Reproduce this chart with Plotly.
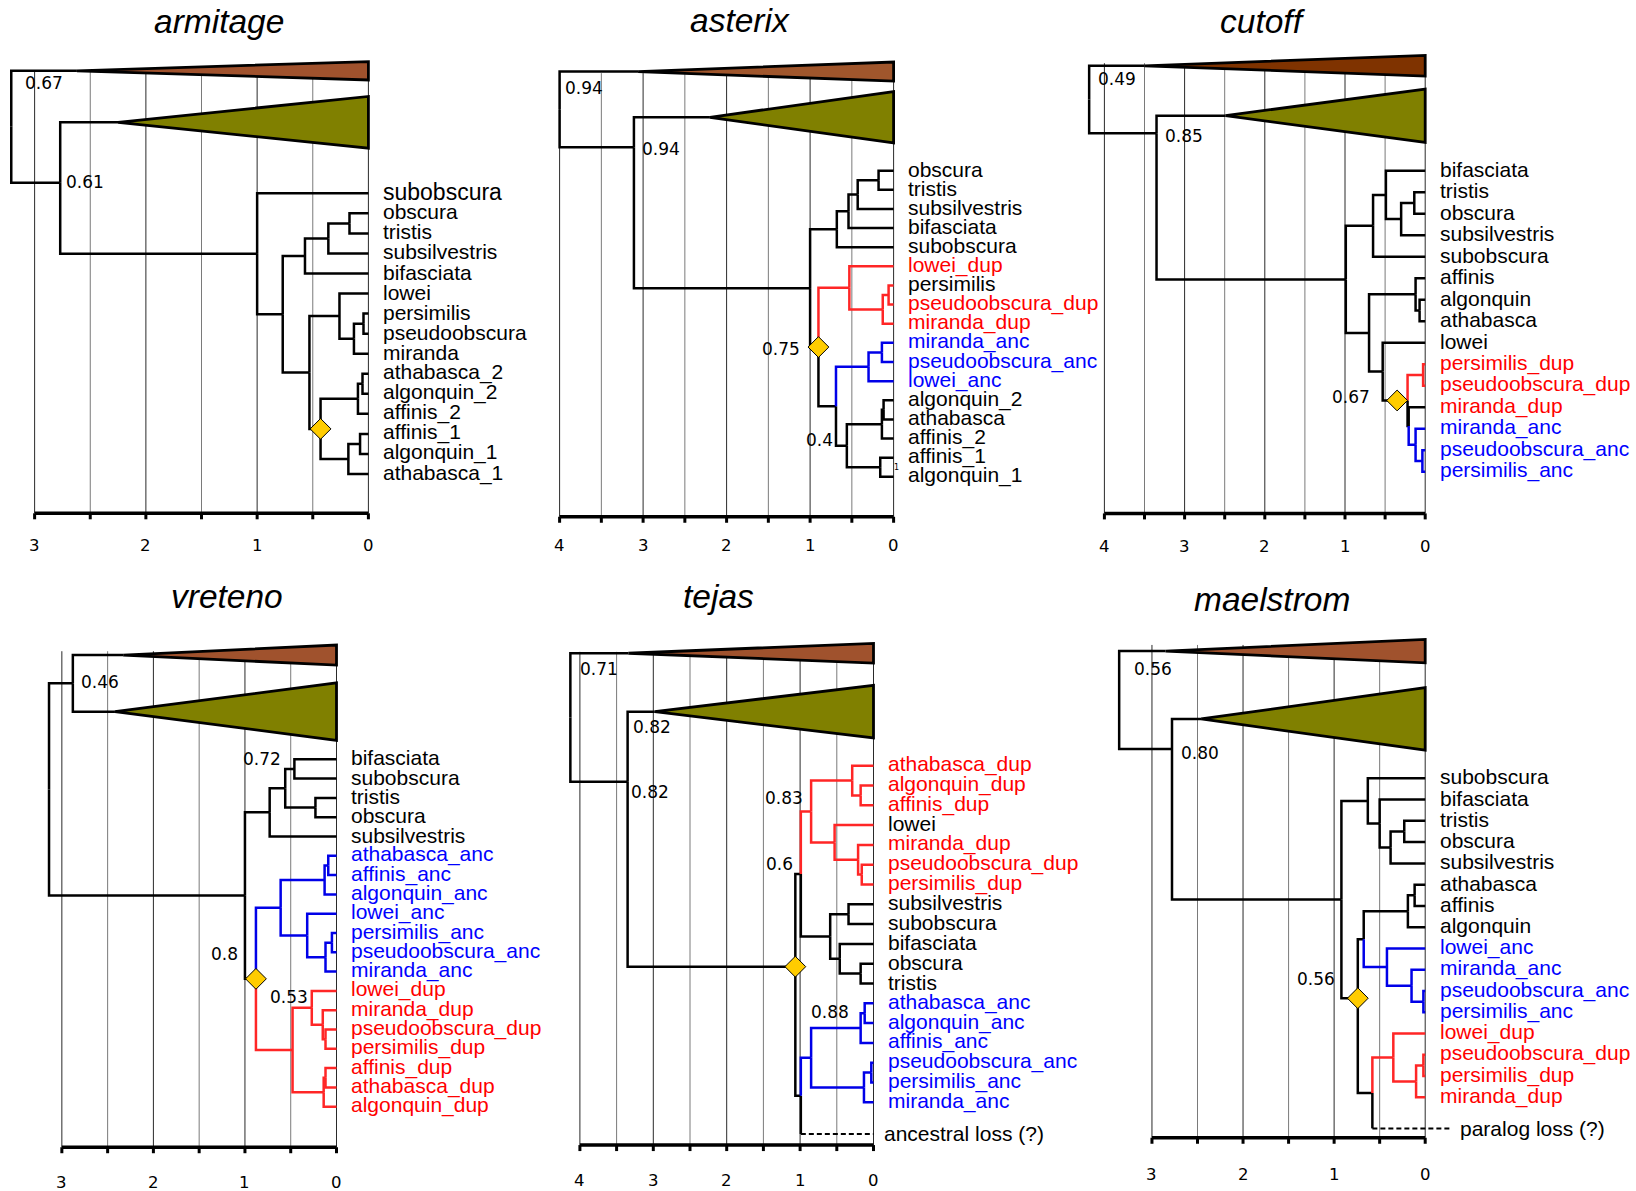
import re
import plotly.graph_objects as go

W, H = 1636, 1191

# ---------------- data ----------------
TITLES = ["armitage", "asterix", "cutoff", "vreteno", "tejas", "maelstrom"]

# Newick-like trees. Tip ages are 0 (collapsed clades BROWN/OLIVE carry their crown age).
# Internal node suffix: age [*dup_age] [r|b = duplicate/ancestral clade] [=name]
TREE_ARMITAGE = "(BROWN:2.62,(OLIVE:2.25,(subobscura,((((obscura,tristis)0.17,subsilvestris)0.36,bifasciata)0.57,((lowei,((persimilis,pseudoobscura)0.044,miranda)0.13)0.26,(((athabasca_2,algonquin_2)0.053,affinis_2)0.094,((affinis_1,algonquin_1)0.075,athabasca_1)0.18)0.43*)0.53)0.77)1.0)2.77=A)3.21=R"
TREE_ASTERIX = "(BROWN:3.06,(OLIVE:2.20,(((((obscura,tristis)0.18,subsilvestris)0.43,bifasciata)0.54,subobscura)0.68,((lowei_dup,((persimilis,pseudoobscura_dup)0.06,miranda_dup)0.13)0.53r,(((miranda_anc,pseudoobscura_anc)0.14,lowei_anc)0.30b,(((algonquin_2,athabasca)0.12,affinis_2)0.14,(affinis_1,algonquin_1)0.16=K3)0.56=K1)0.69)0.9*=Dn)1.0)3.11=A)4.0=R"
TREE_CUTOFF = "(BROWN:3.50,(OLIVE:2.49,(((bifasciata,((tristis,obscura)0.136,subsilvestris)0.30)0.49,subobscura)0.65,((affinis,(algonquin,athabasca)0.07)0.12,(lowei,((persimilis_dup,pseudoobscura_dup)0.026r,(miranda_dup,(miranda_anc,(pseudoobscura_anc,persimilis_anc)0.035)0.12b)0.206)0.22*0.35=Dn)0.53)0.70)0.99)3.35=A)4.19=R"
TREE_VRETENO = "((BROWN:2.33,OLIVE:2.42)2.88=O,((((bifasciata,subobscura)0.46=N72,(tristis,obscura)0.23)0.56,subsilvestris)0.73,((((athabasca_anc,affinis_anc)0.09,algonquin_anc)0.13,(lowei_anc,((persimilis_anc,pseudoobscura_anc)0.05,miranda_anc)0.12)0.32)0.61b,((lowei_dup,(miranda_dup,(pseudoobscura_dup,persimilis_dup)0.12)0.15)0.27=N53,((affinis_dup,athabasca_dup)0.12,algonquin_dup)0.14)0.48r)0.88*=Dn)1.0)3.14=R"
TREE_TEJAS = "(BROWN:3.34,(OLIVE:2.98,((((athabasca_dup,(algonquin_dup,affinis_dup)0.175)0.29,(lowei,(miranda_dup,(pseudoobscura_dup,persimilis_dup)0.16)0.21)0.53)0.85r=Rr,((subsilvestris,subobscura)0.34,(bifasciata,(obscura,tristis)0.175)0.46)0.59)0.99=Q,((((athabasca_anc,algonquin_anc)0.12,affinis_anc)0.175=N88,((pseudoobscura_anc,persimilis_anc)0.03,miranda_anc)0.13)0.85b,LOSS)0.99)1.065*=T)3.35=A)4.13=R"
TREE_MAELSTROM = "(BROWN:2.85,(OLIVE:2.46,((subobscura,(bifasciata,((tristis,obscura)0.23,subsilvestris)0.38)0.50)0.63,((((athabasca,affinis)0.116,algonquin)0.19,(lowei_anc,(miranda_anc,(pseudoobscura_anc,persimilis_anc)0.02)0.15)0.42b)0.675,((lowei_dup,((pseudoobscura_dup,persimilis_dup)0.02,miranda_dup)0.10)0.35r,LOSS)0.58)0.74*=Dn)0.92)2.78=A)3.36=R"
TREES = [TREE_ARMITAGE, TREE_ASTERIX, TREE_CUTOFF, TREE_VRETENO, TREE_TEJAS, TREE_MAELSTROM]

LOSS_LABELS = {"tejas": "ancestral loss (?)", "maelstrom": "paralog loss (?)"}

# support values: (text, node for x, node for y, side, dx px, dy rows[, font size])
SUPPORT = {
    "armitage": [("0.67", "R", "BROWN", "R", 12.5, 0.62), ("0.61", "A", "A", "R", 5.2, -0.05)],
    "asterix": [("0.94", "R", "BROWN", "R", 4.5, 0.87), ("0.94", "A", "A", "R", 7.0, 0.08),
                ("0.75", "Dn", "Dn", "L", 17.0, 0.12), ("0.4", "K1", "K1", "L", 13.1, -0.3),
                ("1", "K3", "K3", "R", 13.1, 0.0, 8)],
    "cutoff": [("0.49", "R", "BROWN", "R", 8.1, 0.61), ("0.85", "A", "A", "R", 7.7, 0.13),
               ("0.67", "Dn", "Dn", "L", 36.2, -0.15)],
    "vreteno": [("0.46", "O", "O", "R", 7.0, -0.08), ("0.72", "N72", "N72", "L", 12.1, -0.5),
                ("0.8", "Dn", "Dn", "L", 17.4, -1.3), ("0.53", "N53", "N53", "L", 2.4, -0.57)],
    "tejas": [("0.71", "R", "BROWN", "R", 8.7, 0.81), ("0.82", "A", "OLIVE", "R", 3.9, 0.76),
              ("0.82", "A", "A", "R", 2.8, 0.5), ("0.83", "Rr", "Rr", "L", 7.0, -0.66),
              ("0.6", "Q", "Q", "L", 7.0, -0.49), ("0.88", "N88", "N88", "L", 10.4, -0.83)],
    "maelstrom": [("0.56", "R", "BROWN", "R", 13.4, 0.86), ("0.80", "A", "A", "R", 8.1, 0.17),
                  ("0.56", "Dn", "Dn", "L", 22.1, -0.89)],
}

# ---------------- layout / style (pixels) ----------------
GEOM = {
    "armitage": dict(px0=368.4, s=111.26, py0=193.3, dy=20.05, box=(0, 40, 545, 570), axis_max=3,
                     axis_row=15.96, grid_top=-6.05, tick_shift=31.7,
                     rows={"BROWN": -6.11, "OLIVE": -3.54, "A": -0.53}, half={"BROWN": 0.46, "OLIVE": 1.29},
                     brown="#a0522d", title=(219, 22), big={"subobscura": 23}),
    "asterix": dict(px0=893.6, s=83.5, py0=170.7, dy=19.13, box=(545, 40, 1085, 570), axis_max=4,
                    axis_row=18.09, grid_top=-5.1, tick_shift=28.3,
                    rows={"BROWN": -5.18, "OLIVE": -2.79, "A": -1.22}, half={"BROWN": 0.5, "OLIVE": 1.34},
                    brown="#a0562c", title=(739.7, 21)),
    "cutoff": dict(px0=1425.2, s=80.2, py0=170.7, dy=21.5, box=(1085, 40, 1636, 570), axis_max=4,
                   axis_row=15.94, grid_top=-5.0, tick_shift=32.7,
                   rows={"BROWN": -4.88, "OLIVE": -2.56, "A": -1.74}, half={"BROWN": 0.48, "OLIVE": 1.24},
                   brown="#7f3300", title=(1263.2, 22)),
    "vreteno": dict(px0=336.5, s=91.55, py0=759.3, dy=19.3, box=(0, 590, 545, 1191), axis_max=3,
                    axis_row=20.1, grid_top=-5.6, tick_shift=35.4,
                    rows={"BROWN": -5.40, "OLIVE": -2.47}, half={"BROWN": 0.52, "OLIVE": 1.49},
                    brown="#a0522d", title=(227.3, 596)),
    "tejas": dict(px0=873.5, s=73.4, py0=765.7, dy=19.8, box=(545, 590, 1085, 1191), axis_max=4,
                  axis_row=19.16, grid_top=-5.75, tick_shift=35,
                  rows={"BROWN": -5.68, "OLIVE": -2.73, "A": 0.81, "T": 10.15}, half={"BROWN": 0.5, "OLIVE": 1.33},
                  loss_gap=0.6, loss_end=0.0, loss_shift=8.7, brown="#a0522d", title=(718.8, 596)),
    "maelstrom": dict(px0=1425.2, s=91.08, py0=778.3, dy=21.27, box=(1085, 590, 1636, 1191), axis_max=3,
                      axis_row=16.9, grid_top=-6.27, tick_shift=36.3,
                      rows={"BROWN": -5.98, "OLIVE": -2.79, "A": -1.38, "Dn": 10.34},
                      half={"BROWN": 0.55, "OLIVE": 1.47},
                      loss_gap=0.46, loss_end=-0.28, loss_shift=7.0, brown="#a0522d", title=(1272.3, 599)),
}
OLIVE_FILL = "#808000"
LINE_COL = {"k": "#000000", "r": "#ff2626", "b": "#0000e8"}
TEXT_COL = {"k": "#000000", "r": "#ff0000", "b": "#0000ff"}
TIP_FONT = "Liberation Sans, Arial, sans-serif"
NUM_FONT = "DejaVu Sans, sans-serif"
TIP_SIZE = 21
TITLE_SIZE = 33.5
NUM_SIZE = 17

SUFFIX = re.compile(r"([0-9.]+)(\*([0-9.]+)?)?([rb])?(?:=(\w+))?")
TIPRE = re.compile(r"(\w+)(?::([0-9.]+))?")


def parse(s):
    pos = 0

    def node():
        nonlocal pos
        if s[pos] == "(":
            pos += 1
            kids = [node()]
            while s[pos] == ",":
                pos += 1
                kids.append(node())
            assert s[pos] == ")", (s[pos:pos + 20])
            pos += 1
            m = SUFFIX.match(s, pos)
            pos = m.end()
            age = float(m.group(1))
            dia = None
            if m.group(2):
                dia = float(m.group(3)) if m.group(3) else age
            return dict(kids=kids, age=age, dia=dia, col=m.group(4), name=m.group(5))
        m = TIPRE.match(s, pos)
        pos = m.end()
        return dict(kids=[], name=m.group(1), age=float(m.group(2) or 0), col=None, dia=None)

    t = node()
    assert pos == len(s)
    return t


def tip_colour(name):
    if name.endswith("_dup"):
        return "r"
    if name.endswith("_anc"):
        return "b"
    return "k"


fig = go.Figure()
annotations = []
layout_axes = {}

for i, (title, tree_s) in enumerate(zip(TITLES, TREES)):
    g = GEOM[title]
    k = i + 1
    xr = "x" if k == 1 else f"x{k}"
    yr = "y" if k == 1 else f"y{k}"
    xl, yt, xrr, yb = g["box"]
    px0, s, py0, dy = g["px0"], g["s"], g["py0"], g["dy"]
    layout_axes["xaxis" if k == 1 else f"xaxis{k}"] = dict(
        domain=[xl / W, xrr / W], range=[(px0 - xl) / s, (px0 - xrr) / s], visible=False, anchor=yr)
    layout_axes["yaxis" if k == 1 else f"yaxis{k}"] = dict(
        domain=[1 - yb / H, 1 - yt / H], range=[(yb - py0) / dy, (yt - py0) / dy], visible=False, anchor=xr)

    tree = parse(tree_s)
    tips = []

    def collect(n):
        if not n["kids"]:
            tips.append(n)
        for c in n["kids"]:
            collect(c)

    collect(tree)
    r = 0
    for n in tips:
        if n["name"] in ("BROWN", "OLIVE"):
            n["row"] = g["rows"][n["name"]]
        elif n["name"] == "LOSS":
            n["row"] = r + g["loss_gap"]
        else:
            n["row"] = r
            r += 1

    named = {}

    def setrow(n, colour):
        n["colour"] = n["col"] or colour
        for c in n["kids"]:
            setrow(c, n["colour"])
        if n["kids"]:
            n["row"] = g["rows"].get(n["name"], (n["kids"][0]["row"] + n["kids"][-1]["row"]) / 2)
        if n["name"]:
            named[n["name"]] = n

    setrow(tree, "k")

    # grid lines and axis
    gx_int, gy_int, gx_half, gy_half = [], [], [], []
    tx, ty = [], []
    nsteps = int(g["axis_max"] * 2)
    for j in range(nsteps + 1):
        a = j / 2
        if j % 2 == 0:
            gx_int += [a, a, None]
            gy_int += [g["grid_top"], g["axis_row"], None]
        else:
            gx_half += [a, a, None]
            gy_half += [g["grid_top"], g["axis_row"], None]
        tx += [a, a, None]
        ty += [g["axis_row"], g["axis_row"] + 6 / dy, None]
    fig.add_trace(go.Scatter(x=gx_half, y=gy_half, mode="lines", line=dict(color="#7a7a7a", width=1),
                             xaxis=xr, yaxis=yr, hoverinfo="skip"))
    fig.add_trace(go.Scatter(x=gx_int, y=gy_int, mode="lines", line=dict(color="#2a2a2a", width=1),
                             xaxis=xr, yaxis=yr, hoverinfo="skip"))
    fig.add_trace(go.Scatter(x=[g["axis_max"], 0], y=[g["axis_row"], g["axis_row"]], mode="lines",
                             line=dict(color="black", width=3.5), xaxis=xr, yaxis=yr, hoverinfo="skip"))
    fig.add_trace(go.Scatter(x=tx, y=ty, mode="lines", line=dict(color="black", width=3),
                             xaxis=xr, yaxis=yr, hoverinfo="skip"))
    for a in range(int(g["axis_max"]) + 1):
        annotations.append(dict(x=a, y=g["axis_row"], xref=xr, yref=yr, text=str(a), showarrow=False,
                                xanchor="center", yanchor="middle", yshift=-g["tick_shift"],
                                font=dict(family=NUM_FONT, size=16.5, color="black")))

    # branches
    segs = {"k": ([], []), "r": ([], []), "b": ([], [])}
    dash = ([], [])
    tris = []
    dias = []

    def draw(n):
        if n["dia"] is not None:
            dias.append((n["dia"], n["row"]))
        for c in n["kids"]:
            col = c["colour"]
            if c["name"] == "LOSS":
                segs["k"][0].extend([n["age"], n["age"], None])
                segs["k"][1].extend([n["row"], c["row"], None])
                dash[0].extend([n["age"], g["loss_end"], None])
                dash[1].extend([c["row"], c["row"], None])
            else:
                segs[col][0].extend([n["age"], n["age"], c["age"], None])
                segs[col][1].extend([n["row"], c["row"], c["row"], None])
            if c["name"] in ("BROWN", "OLIVE"):
                tris.append(c)
            draw(c)

    draw(tree)
    for col in ("k", "r", "b"):
        xs, ys = segs[col]
        if xs:
            fig.add_trace(go.Scatter(x=xs, y=ys, mode="lines", line=dict(color=LINE_COL[col], width=2.5),
                                     xaxis=xr, yaxis=yr, hoverinfo="skip"))
    if dash[0]:
        fig.add_trace(go.Scatter(x=dash[0], y=dash[1], mode="lines",
                                 line=dict(color="black", width=2, dash="5px,3px"),
                                 xaxis=xr, yaxis=yr, hoverinfo="skip"))
    for c in tris:
        h = g["half"][c["name"]]
        fill = g["brown"] if c["name"] == "BROWN" else OLIVE_FILL
        fig.add_trace(go.Scatter(x=[c["age"], 0, 0, c["age"]], y=[c["row"], c["row"] - h, c["row"] + h, c["row"]],
                                 mode="lines", fill="toself", fillcolor=fill,
                                 line=dict(color="black", width=2.8), xaxis=xr, yaxis=yr, hoverinfo="skip"))
    if dias:
        fig.add_trace(go.Scatter(x=[d[0] for d in dias], y=[d[1] for d in dias], mode="markers",
                                 marker=dict(symbol="diamond", size=16, color="#ffcc00",
                                             line=dict(color="black", width=1)),
                                 xaxis=xr, yaxis=yr, hoverinfo="skip"))

    # tip labels
    big = g.get("big", {})
    for n in tips:
        if n["name"] in ("BROWN", "OLIVE"):
            continue
        if n["name"] == "LOSS":
            annotations.append(dict(x=g["loss_end"], y=n["row"], xref=xr, yref=yr, text=LOSS_LABELS[title],
                                    showarrow=False, xanchor="left", yanchor="middle", xshift=g["loss_shift"],
                                    font=dict(family=TIP_FONT, size=TIP_SIZE, color="black")))
            continue
        annotations.append(dict(x=0, y=n["row"], xref=xr, yref=yr, text=n["name"], showarrow=False,
                                xanchor="left", yanchor="middle", xshift=12.5, yshift=1.5,
                                font=dict(family=TIP_FONT, size=big.get(n["name"], TIP_SIZE),
                                          color=TEXT_COL[tip_colour(n["name"])])))

    # support values
    for sup in SUPPORT[title]:
        text, nx, ny, side, dx, dyr = sup[:6]
        fs = sup[6] if len(sup) > 6 else NUM_SIZE
        annotations.append(dict(x=named[nx]["age"], y=named[ny]["row"] + dyr, xref=xr, yref=yr, text=text,
                                showarrow=False, xanchor="left" if side == "R" else "right", yanchor="middle",
                                xshift=(dx - 1) if side == "R" else -(dx - 1),
                                font=dict(family=NUM_FONT, size=fs, color="black")))

    # title
    tx0, ty0 = g["title"]
    annotations.append(dict(x=tx0 / W, y=1 - ty0 / H, xref="paper", yref="paper", text=f"<i>{title}</i>",
                            showarrow=False, xanchor="center", yanchor="middle",
                            font=dict(family=TIP_FONT, size=TITLE_SIZE, color="black")))

fig.update_layout(width=W, height=H, margin=dict(l=0, r=0, t=0, b=0), paper_bgcolor="white",
                  plot_bgcolor="white", showlegend=False, annotations=annotations, **layout_axes)
fig.write_html("out.html", config={"displayModeBar": False},
               post_script="document.body.style.margin='0px';document.body.style.overflow='hidden';")
